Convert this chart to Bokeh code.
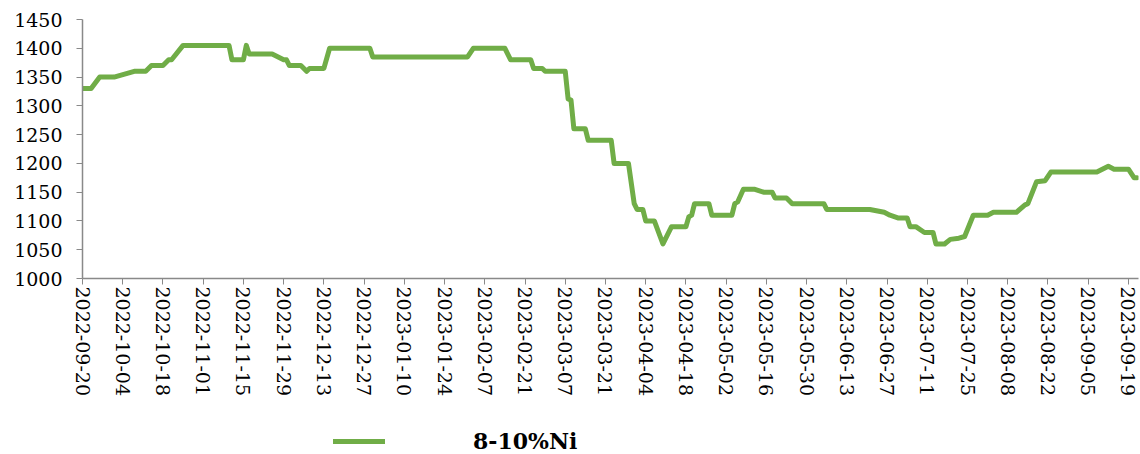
import math
import pandas as pd
from bokeh.plotting import figure
from bokeh.layouts import column
from bokeh.models import (Range1d, FixedTicker, DatetimeTickFormatter, Legend, LegendItem,
                          ColumnDataSource, SingleIntervalTicker)
from bokeh.embed import file_html
from bokeh.resources import INLINE

# ---- data ----
series_name = "8-10%Ni"
dates = [
    "2022-09-20", "2022-09-23", "2022-09-26", "2022-10-01", "2022-10-08", "2022-10-12",
    "2022-10-14", "2022-10-18", "2022-10-20", "2022-10-21", "2022-10-25", "2022-11-10",
    "2022-11-11", "2022-11-15", "2022-11-16", "2022-11-17", "2022-11-25", "2022-11-29",
    "2022-11-30", "2022-12-01", "2022-12-05", "2022-12-07", "2022-12-08", "2022-12-13",
    "2022-12-15", "2022-12-29", "2022-12-30", "2023-02-01", "2023-02-03", "2023-02-14",
    "2023-02-16", "2023-02-23", "2023-02-24", "2023-02-27", "2023-02-28", "2023-03-07",
    "2023-03-08", "2023-03-09", "2023-03-10", "2023-03-14", "2023-03-15", "2023-03-23",
    "2023-03-24", "2023-03-29", "2023-03-31", "2023-04-01", "2023-04-03", "2023-04-04",
    "2023-04-07", "2023-04-10", "2023-04-13", "2023-04-18", "2023-04-19", "2023-04-20",
    "2023-04-21", "2023-04-26", "2023-04-27", "2023-05-04", "2023-05-05", "2023-05-06",
    "2023-05-08", "2023-05-12", "2023-05-15", "2023-05-18", "2023-05-19", "2023-05-23",
    "2023-05-25", "2023-06-05", "2023-06-06", "2023-06-21", "2023-06-26", "2023-06-28",
    "2023-07-01", "2023-07-04", "2023-07-05", "2023-07-07", "2023-07-10", "2023-07-13",
    "2023-07-14", "2023-07-17", "2023-07-19", "2023-07-22", "2023-07-24", "2023-07-27",
    "2023-08-01", "2023-08-03", "2023-08-11", "2023-08-14", "2023-08-15", "2023-08-18",
    "2023-08-21", "2023-08-23", "2023-09-08", "2023-09-12", "2023-09-14", "2023-09-19",
    "2023-09-21", "2023-09-22",
]
prices = [
    1330, 1330, 1350, 1350, 1360, 1360,
    1370, 1370, 1380, 1380, 1405, 1405,
    1380, 1380, 1405, 1390, 1390, 1380,
    1380, 1370, 1370, 1360, 1365, 1365,
    1400, 1400, 1385, 1385, 1400, 1400,
    1380, 1380, 1365, 1365, 1360, 1360,
    1312, 1310, 1260, 1260, 1240, 1240,
    1200, 1200, 1130, 1120, 1120, 1100,
    1100, 1060, 1090, 1090, 1107, 1110,
    1130, 1130, 1110, 1110, 1130, 1133,
    1155, 1155, 1150, 1150, 1140, 1140,
    1130, 1130, 1120, 1120, 1115, 1110,
    1105, 1105, 1090, 1090, 1080, 1080,
    1060, 1060, 1068, 1070, 1073, 1110,
    1110, 1115, 1115, 1128, 1130, 1168,
    1170, 1185, 1185, 1195, 1190, 1190,
    1175, 1175,
]
x_tick_labels = [
    "2022-09-20", "2022-10-04", "2022-10-18", "2022-11-01", "2022-11-15", "2022-11-29",
    "2022-12-13", "2022-12-27", "2023-01-10", "2023-01-24", "2023-02-07", "2023-02-21",
    "2023-03-07", "2023-03-21", "2023-04-04", "2023-04-18", "2023-05-02", "2023-05-16",
    "2023-05-30", "2023-06-13", "2023-06-27", "2023-07-11", "2023-07-25", "2023-08-08",
    "2023-08-22", "2023-09-05", "2023-09-19",
]
y_min, y_max, y_step = 1000, 1450, 50
x_start, x_end = "2022-09-20", "2023-09-22 12:00"

# ---- build ----
def ms(s):
    return pd.Timestamp(s).value / 1e6

src = ColumnDataSource(dict(x=pd.to_datetime(dates), y=prices))

FONT = "DejaVu Serif"
GREY = "#898989"
GREEN = "#70AD47"

p = figure(width=1140, height=400, x_axis_type="datetime", output_backend="svg",
           toolbar_location=None,
           x_range=Range1d(ms(x_start), ms(x_end)), y_range=Range1d(y_min, y_max),
           min_border_left=82, min_border_right=2, min_border_top=19, min_border_bottom=122)
p.outline_line_color = None
p.xgrid.visible = False
p.ygrid.visible = False

r = p.line("x", "y", source=src, line_color=GREEN, line_width=5, line_join="round",
           line_cap="round")

fmt = "%Y-%m-%d"
xa = p.xaxis[0]
xa.ticker = FixedTicker(ticks=[ms(t) for t in x_tick_labels])
xa.formatter = DatetimeTickFormatter(days=fmt, months=fmt, years=fmt, hours=fmt, minutes=fmt,
                                     seconds=fmt, milliseconds=fmt, minsec=fmt, hourmin=fmt)
xa.major_label_orientation = -math.pi / 2
xa.minor_tick_line_color = None
xa.major_tick_in = 0
xa.major_tick_out = 6
xa.major_label_standoff = 2
xa.axis_line_color = GREY
xa.major_tick_line_color = GREY
xa.axis_line_width = 1.5
xa.major_label_text_font = FONT
xa.major_label_text_font_size = "19px"
xa.major_label_text_color = "black"

ya = p.yaxis[0]
ya.ticker = SingleIntervalTicker(interval=y_step)
ya.minor_tick_line_color = None
ya.major_tick_in = 0
ya.major_tick_out = 6
ya.major_label_standoff = 14
ya.axis_line_color = GREY
ya.major_tick_line_color = GREY
ya.axis_line_width = 1.5
ya.major_label_text_font = FONT
ya.major_label_text_font_size = "19px"
ya.major_label_text_color = "black"

# legend strip below the chart (the series is drawn out of its view; only the key shows)
lf = figure(width=1140, height=54, output_backend="svg", toolbar_location=None,
            x_range=Range1d(0, 1), y_range=Range1d(0, 1),
            x_axis_location=None, y_axis_location=None,
            min_border_left=0, min_border_right=0, min_border_top=0, min_border_bottom=0)
lf.outline_line_color = None
lf.xgrid.visible = False
lf.ygrid.visible = False
lr = lf.line("x", "y", source=src, line_color=GREEN, line_width=5, line_cap="round")
legend = Legend(items=[LegendItem(label=series_name, renderers=[lr])],
                location=(251, 0), orientation="horizontal",
                glyph_width=52, glyph_height=22, label_standoff=88,
                padding=0, margin=0, spacing=0,
                border_line_color=None, background_fill_alpha=0,
                label_text_font=FONT, label_text_font_style="bold",
                label_text_font_size="22px", label_text_color="black")
lf.add_layout(legend, "center")

layout = column(p, lf, spacing=0)
open("out.html", "w").write(file_html(layout, INLINE))
